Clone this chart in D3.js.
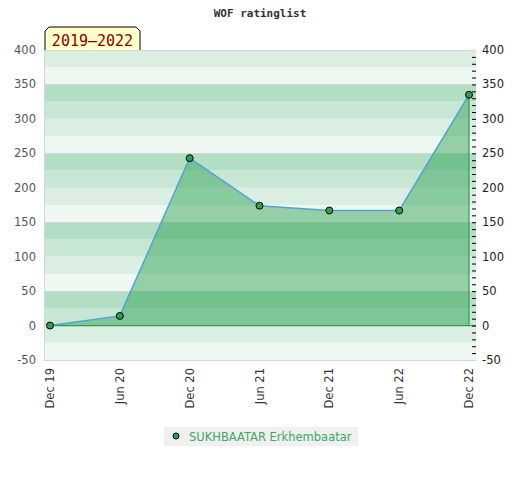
<!DOCTYPE html>
<html><head><meta charset="utf-8">
<script src="https://cdn.jsdelivr.net/npm/d3@7"></script>
<style>body{margin:0;background:#fff}svg{display:block}</style>
</head><body><svg id="c" width="520" height="480"></svg>
<script>
const periods = ["Dec 19","Jun 20","Dec 20","Jun 21","Dec 21","Jun 22","Dec 22"];
const ratings = [0, 14, 243, 174, 167, 167, 335];
const yTicks = [-50, 0, 50, 100, 150, 200, 250, 300, 350, 400];
const playerName = "SUKHBAATAR Erkhembaatar";
const title = "WOF ratinglist";
const rangeLabel = "2019–2022";

const svg = d3.select("#c");
const pL = 45, pR = 476, pT = 50, pB = 360;
const x = d3.scaleLinear().domain([0, periods.length - 1]).range([50, 469]);
const y = d3.scaleLinear().domain([-50, 400]).range([pB, pT]);

// bands
const bandColors = ["#eef7f2", "#dbeee2", "#c8e6d4", "#b2dec4"];
const bands = d3.range(-50, 400, 25);
svg.append("g").selectAll("rect").data(bands).join("rect")
  .attr("x", pL).attr("width", pR - pL)
  .attr("y", d => y(d + 25)).attr("height", d => y(d) - y(d + 25))
  .attr("fill", (d, i) => bandColors[i % 4]);

// grid lines
svg.append("g").selectAll("line").data([-50, 50, 150, 250, 350, 400]).join("line")
  .attr("x1", pL).attr("x2", pR)
  .attr("y1", d => Math.round(y(d)) + 0.5).attr("y2", d => Math.round(y(d)) + 0.5)
  .attr("stroke", "#d6d6d6").attr("stroke-width", 1);
svg.append("line").attr("x1", pL - 0.5).attr("x2", pL - 0.5).attr("y1", pT).attr("y2", pB + 1)
  .attr("stroke", "#d6d6d6");

// area
const idx = d3.range(ratings.length);
const area = d3.area().x(i => x(i)).y0(y(0)).y1(i => y(ratings[i]));
svg.append("path").datum(idx).attr("d", area)
  .attr("fill", "rgba(38,158,77,0.45)").attr("stroke", "none");
// baseline and right edge
svg.append("line").attr("x1", x(0)).attr("x2", pR).attr("y1", y(0)).attr("y2", y(0))
  .attr("stroke", "#2e9e50").attr("stroke-width", 1.2);
svg.append("line").attr("x1", x(ratings.length - 1)).attr("x2", x(ratings.length - 1))
  .attr("y1", y(0)).attr("y2", y(ratings[ratings.length - 1]))
  .attr("stroke", "#2e9e50").attr("stroke-width", 1.2);
// line
svg.append("path").datum(idx)
  .attr("d", d3.line().x(i => x(i)).y(i => y(ratings[i])))
  .attr("fill", "none").attr("stroke", "#5a9fd8").attr("stroke-width", 1.5);
// points
svg.append("g").selectAll("circle").data(idx).join("circle")
  .attr("cx", i => x(i)).attr("cy", i => y(ratings[i])).attr("r", 3.5)
  .attr("fill", "#2e9e50").attr("stroke", "#000").attr("stroke-width", 1);

// left axis labels
svg.append("g").selectAll("text").data(yTicks).join("text")
  .attr("x", 36).attr("y", d => y(d)).attr("dy", "0.35em")
  .attr("text-anchor", "end").attr("font-family", "DejaVu Sans").attr("font-size", 11.5)
  .attr("fill", "#555").text(d => d);
// right axis
const rAxis = d3.axisRight(y).tickValues(d3.range(-40, 400, 10)).tickSize(4).tickFormat("");
const rg = svg.append("g").attr("transform", `translate(${pR - 4},0)`).call(rAxis);
rg.select(".domain").remove();
rg.selectAll(".tick line").attr("stroke", "#000");
svg.append("g").selectAll("text").data(yTicks).join("text")
  .attr("x", 482).attr("y", d => y(d)).attr("dy", "0.35em")
  .attr("text-anchor", "start").attr("font-family", "DejaVu Sans").attr("font-size", 11.5)
  .attr("fill", "#222").text(d => d);

// x labels
svg.append("g").selectAll("text").data(periods).join("text")
  .attr("transform", (d, i) => `translate(${x(i) + 4},${368}) rotate(-90)`)
  .attr("text-anchor", "end").attr("font-family", "DejaVu Sans").attr("font-size", 11.5)
  .attr("fill", "#333").text(d => d);

// title
svg.append("text").attr("x", 260).attr("y", 17).attr("text-anchor", "middle")
  .attr("font-family", "DejaVu Sans Mono").attr("font-weight", "bold").attr("font-size", 11)
  .attr("fill", "#333").text(title);

// range label box
const bx0 = 45, bx1 = 140, by0 = 27, by1 = 50, c = 4;
svg.append("path")
  .attr("d", `M${bx0},${by1}L${bx0},${by0 + c}L${bx0 + c},${by0}L${bx1 - c},${by0}L${bx1},${by0 + c}L${bx1},${by1}`)
  .attr("fill", "#ffffcc").attr("stroke", "#000").attr("stroke-width", 1);
svg.append("text").attr("x", (bx0 + bx1) / 2).attr("y", 46).attr("text-anchor", "middle")
  .attr("font-family", "DejaVu Sans Mono").attr("font-size", 15)
  .attr("fill", "#8b0000").text(rangeLabel);

// legend
svg.append("rect").attr("x", 164).attr("y", 427).attr("width", 194).attr("height", 19).attr("fill", "#f0f0f0");
svg.append("circle").attr("cx", 176).attr("cy", 436).attr("r", 3).attr("fill", "#2e9e50").attr("stroke", "#000");
svg.append("text").attr("x", 189).attr("y", 440.5).attr("font-family", "DejaVu Sans").attr("font-size", 11.5)
  .attr("fill", "#3aa860").text(playerName);
</script></body></html>
